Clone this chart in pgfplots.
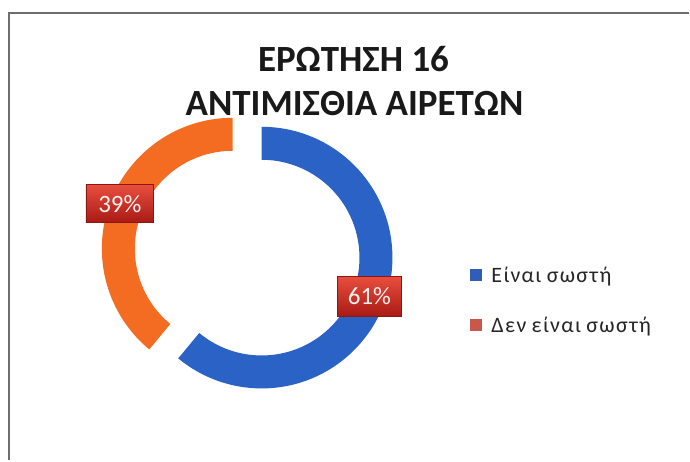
\documentclass[border=0pt]{standalone}
\usepackage{pgfplots}
\pgfplotsset{compat=1.18}
\usepackage{pgfplotstable}
\usepackage{fontspec}
\setmainfont{Carlito}
\newfontfamily\legfont[LetterSpace=6,WordSpace=0.85]{Carlito}
\definecolor{pieblue}{HTML}{2A62C6}
\definecolor{pieorange}{HTML}{F36C21}
\definecolor{legblue}{HTML}{2F5DB8}
\definecolor{legred}{HTML}{C8574C}
\definecolor{framegray}{HTML}{6E6E72}
\definecolor{labtop}{RGB}{232,78,62}
\definecolor{labbot}{RGB}{168,26,20}
\definecolor{labedge}{RGB}{140,22,16}

\pgfplotstableread{
label value
yes 61
no 39
}\piedata
\pgfplotstablegetelem{0}{value}\of\piedata
\pgfmathsetmacro\angA{\pgfplotsretval*3.6}
\pgfmathsetmacro\endA{90-\angA}
\pgfmathsetmacro\endB{360+\endA}

\begin{document}
\begin{tikzpicture}
\begin{axis}[width=690pt,height=461pt,scale only axis,
  xmin=0,xmax=690,ymin=0,ymax=461,hide axis,clip=false]
\fill[white] (axis cs:0,0) rectangle (axis cs:690,461);
\draw[line width=2pt, framegray] (axis cs:9,0) -- (axis cs:9,448) -- (axis cs:690,448);
% blue segment (61%)
\fill[pieblue] ([shift={(90:131)}]axis cs:262,203) arc[start angle=90, end angle=\endA, radius=131]
  -- ([shift={(\endA:98)}]axis cs:262,203) arc[start angle=\endA, end angle=90, radius=98] -- cycle;
% orange segment (39%)
\fill[pieorange] ([shift={(90:131)}]axis cs:233,212) arc[start angle=90, end angle=\endB, radius=131]
  -- ([shift={(\endB:98)}]axis cs:233,212) arc[start angle=\endB, end angle=90, radius=98] -- cycle;
% data labels
\node[top color=labtop, bottom color=labbot, draw=labedge, line width=0.6pt,
  minimum width=64pt, minimum height=40pt, inner sep=0pt,
  text=white!94!red, font=\fontsize{25}{25}\selectfont] at (axis cs:370,164) {61\%};
\node[top color=labtop, bottom color=labbot, draw=labedge, line width=0.6pt,
  minimum width=68pt, minimum height=38pt, inner sep=0pt,
  text=white!94!red, font=\fontsize{25}{25}\selectfont] at (axis cs:120,257) {39\%};
% title
\node[anchor=base, font=\fontsize{37}{37}\selectfont\bfseries, text=black!90] at (axis cs:354,389) {ΕΡΩΤΗΣΗ 16};
\node[anchor=base, font=\fontsize{37}{37}\selectfont\bfseries, text=black!90] at (axis cs:355,345) {ΑΝΤΙΜΙΣΘΙΑ ΑΙΡΕΤΩΝ};
% legend
\fill[legblue] (axis cs:471,180) rectangle (axis cs:483,192);
\fill[legred] (axis cs:471,130) rectangle (axis cs:483,142);
\node[anchor=base west, inner sep=0pt, font=\legfont\fontsize{22}{22}\selectfont, text=black!85] at (axis cs:492,178) {Είναι σωστή};
\node[anchor=base west, inner sep=0pt, font=\legfont\fontsize{22}{22}\selectfont, text=black!85] at (axis cs:492,128) {Δεν είναι σωστή};
\end{axis}
\end{tikzpicture}
\end{document}
